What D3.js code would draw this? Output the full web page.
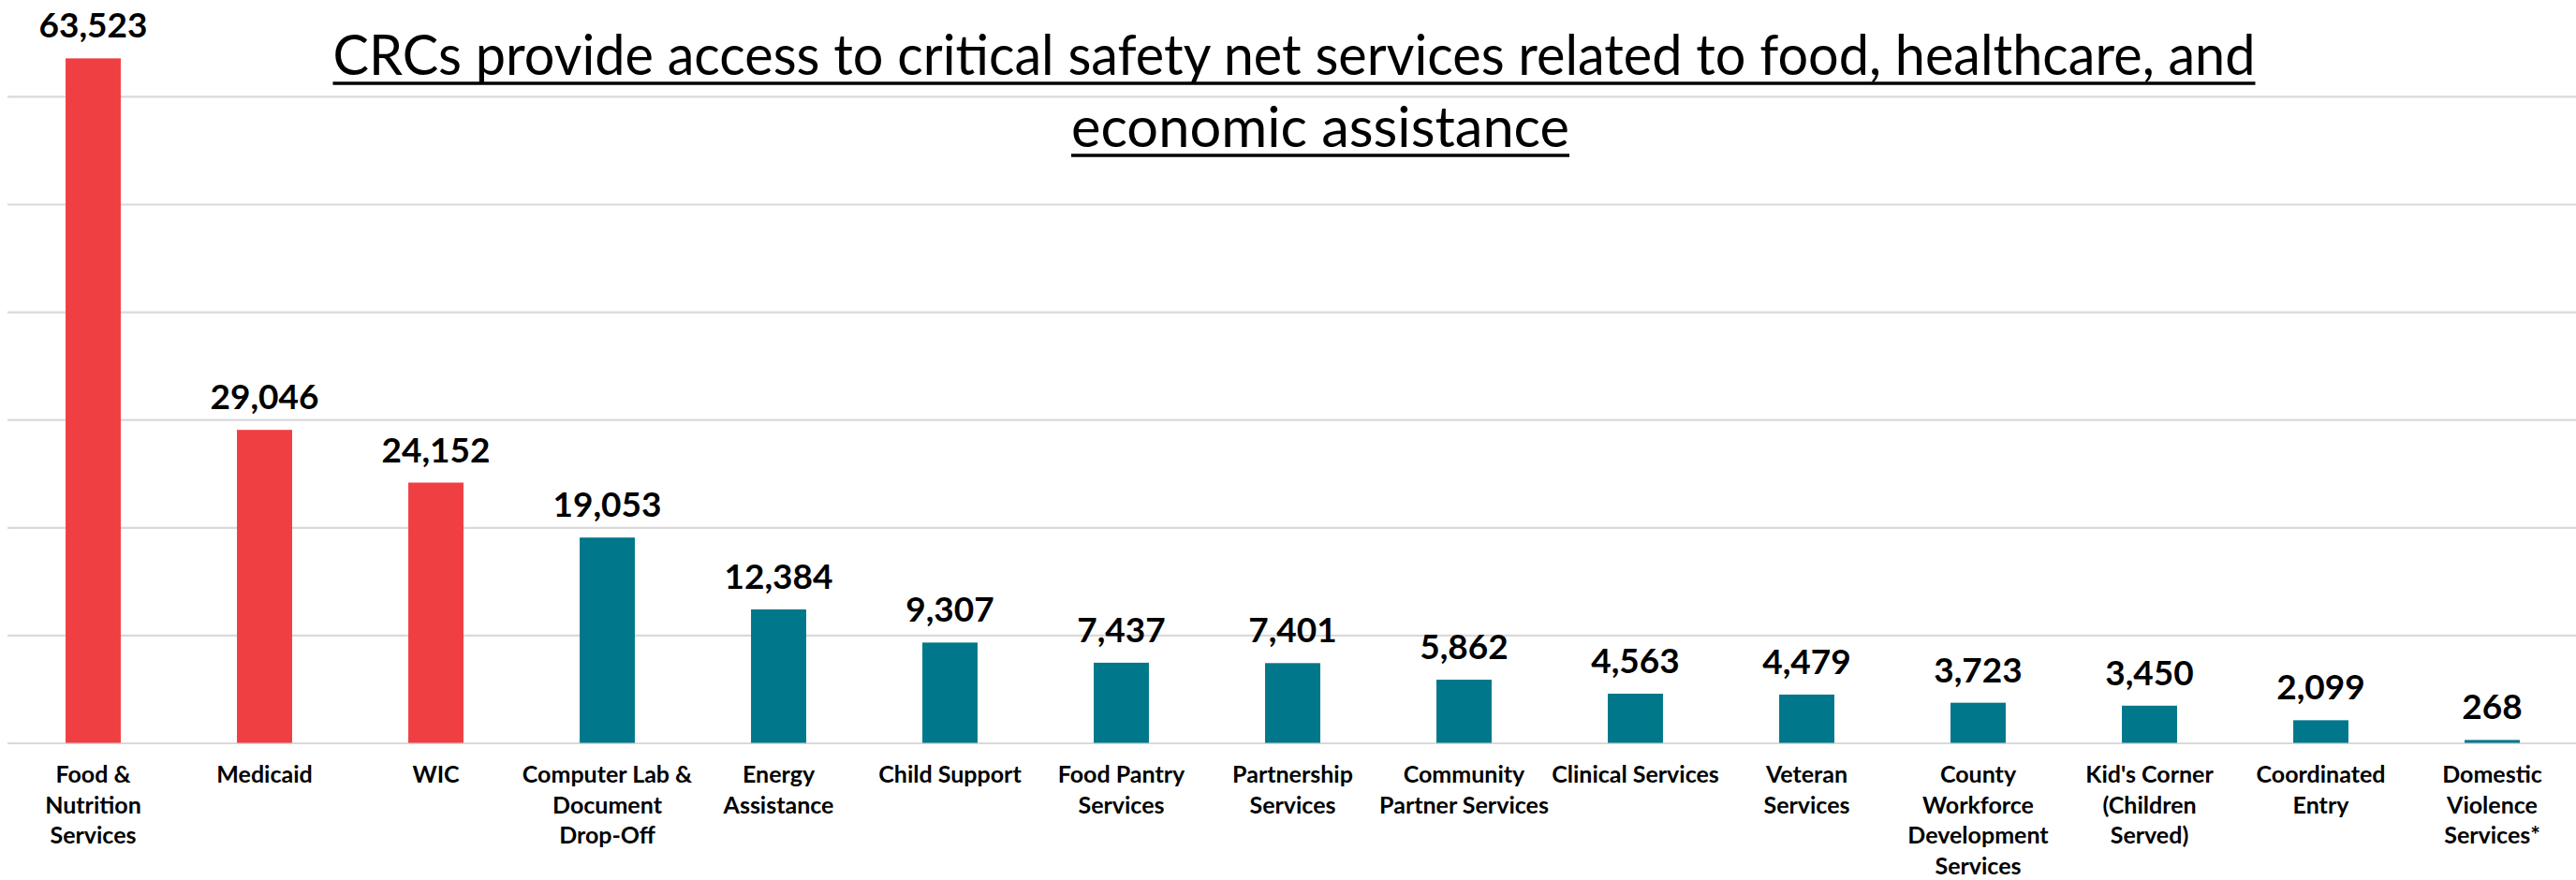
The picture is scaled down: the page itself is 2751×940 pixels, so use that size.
<!DOCTYPE html>
<html>
<head>
<meta charset="utf-8">
<script src="https://cdn.jsdelivr.net/npm/d3@7"></script>
<style>
  html, body { margin: 0; padding: 0; background: #ffffff; }
  svg { display: block; }
  text { font-family: Lato, "Open Sans", sans-serif; }
</style>
</head>
<body>
<svg id="chart" width="2751" height="940"></svg>
<script>
// ---- data ----
const categories = [
  "Food &\nNutrition\nServices",
  "Medicaid",
  "WIC",
  "Computer Lab &\nDocument\nDrop-Off",
  "Energy\nAssistance",
  "Child Support",
  "Food Pantry\nServices",
  "Partnership\nServices",
  "Community\nPartner Services",
  "Clinical Services",
  "Veteran\nServices",
  "County\nWorkforce\nDevelopment\nServices",
  "Kid's Corner\n(Children\nServed)",
  "Coordinated\nEntry",
  "Domestic\nViolence\nServices*"
];
const values = [63523, 29046, 24152, 19053, 12384, 9307, 7437, 7401, 5862, 4563, 4479, 3723, 3450, 2099, 268];
const groups = ["core", "core", "core", "other", "other", "other", "other", "other", "other", "other", "other", "other", "other", "other", "other"];
const yTicks = [0, 10000, 20000, 30000, 40000, 50000, 60000];
const titleLines = [
  "CRCs provide access to critical safety net services related to food, healthcare, and",
  "economic assistance"
];

// ---- layout ----
const W = 2751, H = 940;
const plotLeft = 8, plotRight = W;
const baseY = 793.5;
const yMaxDomain = 70000, yAtMax = -12.2;

const svg = d3.select("#chart");

const x = d3.scaleBand()
  .domain(categories)
  .range([plotLeft, plotLeft + 183 * categories.length])
  .paddingInner(0.678)
  .paddingOuter(0.339);

const y = d3.scaleLinear()
  .domain([0, yMaxDomain])
  .range([baseY, yAtMax]);

const color = d3.scaleOrdinal()
  .domain(["core", "other"])
  .range(["#EF3F42", "#00778A"]);

// gridlines
const grid = svg.append("g")
  .attr("transform", `translate(${plotLeft},0)`)
  .call(d3.axisLeft(y).tickValues(yTicks).tickSize(-(plotRight - plotLeft)).tickFormat(""));
grid.select(".domain").remove();
grid.selectAll(".tick line").attr("stroke", "#d9d9d9").attr("stroke-width", 2.2);

// bars
svg.append("g").selectAll("rect")
  .data(values)
  .join("rect")
  .attr("x", (d, i) => x(categories[i]))
  .attr("width", x.bandwidth())
  .attr("y", d => y(d))
  .attr("height", d => baseY - y(d))
  .attr("fill", (d, i) => color(groups[i]));

// value labels
svg.append("g").selectAll("text")
  .data(values)
  .join("text")
  .attr("x", (d, i) => x(categories[i]) + x.bandwidth() / 2)
  .attr("y", d => y(d) - 22)
  .attr("text-anchor", "middle")
  .attr("font-weight", 700)
  .attr("font-size", 37)
  .attr("fill", "#000")
  .text(d3.format(","));

// category axis
const xAxis = svg.append("g")
  .attr("transform", `translate(0,${baseY})`)
  .call(d3.axisBottom(x).tickSize(0).tickPadding(0));
xAxis.select(".domain").remove();
xAxis.selectAll(".tick text").each(function(d) {
  const t = d3.select(this);
  t.text(null)
    .attr("y", 0)
    .attr("dy", null)
    .attr("fill", "#000")
    .attr("font-size", 25)
    .attr("font-weight", 700)
    .attr("font-family", "Lato, 'Open Sans', sans-serif");
  d.split("\n").forEach((line, k) => {
    t.append("tspan").attr("x", 0).attr("y", 42.5 + k * 32.5).text(line);
  });
});

// title
const titleCx = [1382, 1410];
const titleBase = [80, 157];
const titleWidth = [2053, 532];
const titleG = svg.append("g");
titleLines.forEach((line, k) => {
  const t = titleG.append("text")
    .attr("x", titleCx[k])
    .attr("y", titleBase[k])
    .attr("text-anchor", "middle")
    .attr("font-size", 60)
    .attr("font-weight", 400)
    .attr("fill", "#000")
    .attr("textLength", titleWidth[k])
    .attr("lengthAdjust", "spacingAndGlyphs")
    .text(line);
  const bb = t.node().getBBox();
  titleG.append("line")
    .attr("x1", bb.x)
    .attr("x2", bb.x + bb.width)
    .attr("y1", titleBase[k] + 9)
    .attr("y2", titleBase[k] + 9)
    .attr("stroke", "#000")
    .attr("stroke-width", 3.5);
});
</script>
</body>
</html>
